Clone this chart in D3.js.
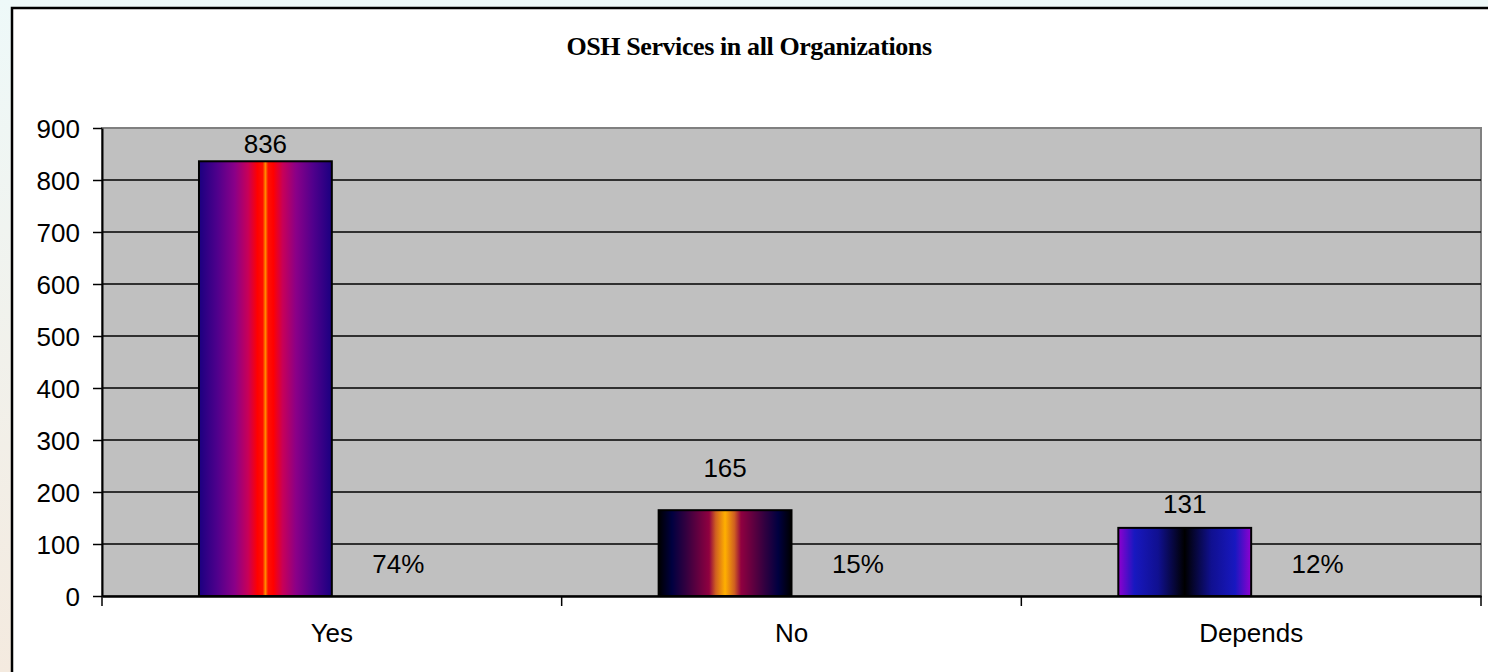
<!DOCTYPE html>
<html><head><meta charset="utf-8">
<script src="https://cdn.jsdelivr.net/npm/d3@7"></script>
<style>body{margin:0;overflow:hidden}svg{display:block}</style>
</head><body>
<script>
const categories = ["Yes", "No", "Depends"];
const counts = [836, 165, 131];
const percents = [0.74, 0.15, 0.12];
const percentLabels = ["74%", "15%", "12%"];
const yTicks = [0, 100, 200, 300, 400, 500, 600, 700, 800, 900];
const title = "OSH Services in all Organizations";
const countLabelGap = [8, 33, 15];
const gradientStops = [
  [["#1a0080",0],["#50008c",0.14],["#8a0088",0.27],["#c80058",0.37],["#ff0000",0.44],["#ff1000",0.48],["#ff8c00",0.5],["#ff1000",0.52],["#ff0000",0.56],["#c80058",0.63],["#8a0088",0.73],["#50008c",0.86],["#1a0080",1]],
  [["#000000",0],["#000040",0.1],["#300040",0.2],["#700040",0.32],["#900040",0.38],["#d06020",0.43],["#ffb000",0.5],["#d06020",0.57],["#900040",0.62],["#700040",0.68],["#300040",0.8],["#000040",0.9],["#000000",1]],
  [["#9000d0",0],["#1818c0",0.12],["#101090",0.3],["#000000",0.5],["#101090",0.7],["#1818c0",0.88],["#9000d0",1]]
];

(function(){
const W = 1488, H = 672;
const svg = d3.select("body").append("svg").attr("width", W).attr("height", H);
const defs = svg.append("defs");
const bg = defs.append("linearGradient").attr("id","bg").attr("x1",0).attr("y1",0).attr("x2",0).attr("y2",1);
bg.append("stop").attr("offset",0).attr("stop-color","#eef9f9");
bg.append("stop").attr("offset",1).attr("stop-color","#f4eadf");
svg.append("rect").attr("width",W).attr("height",H).attr("fill","url(#bg)");
svg.append("rect").attr("x",12).attr("y",8).attr("width",W+20).attr("height",H+20)
  .attr("fill","#fff").attr("stroke","#000").attr("stroke-width",2.5);

gradientStops.forEach((st,i)=>{
  const g = defs.append("linearGradient").attr("id","g"+i).attr("x1",0).attr("x2",1).attr("y1",0).attr("y2",0);
  st.forEach(s=>g.append("stop").attr("offset",s[1]).attr("stop-color",s[0]));
});

svg.append("text").attr("x",749).attr("y",55).attr("text-anchor","middle")
  .attr("font-family","Liberation Serif, Times New Roman, serif").attr("font-weight","bold")
  .attr("font-size",26).attr("letter-spacing",-0.4).text(title);

const pL = 102, pR = 1481, pT = 128, pB = 596;
const x = d3.scaleBand().domain(categories).range([pL, pR]).paddingInner(0).paddingOuter(0);
const sub = d3.scaleBand().domain(["count","pct"]).range([0, x.bandwidth()]).paddingInner(0).paddingOuter(0.73);
const y = d3.scaleLinear().domain([0, 900]).range([pB, pT]);

svg.append("rect").attr("x",pL).attr("y",pT).attr("width",pR-pL).attr("height",pB-pT)
  .attr("fill","#c0c0c0").attr("stroke","#808080").attr("stroke-width",2);

svg.append("g").selectAll("line").data(yTicks.filter(d=>d>0 && d<900)).join("line")
  .attr("x1",pL).attr("x2",pR).attr("y1",d=>y(d)).attr("y2",d=>y(d))
  .attr("stroke","#000").attr("stroke-width",1.5);

const font = "Liberation Sans, Arial, sans-serif";
const ya = svg.append("g").attr("transform",`translate(${pL},0)`)
  .call(d3.axisLeft(y).tickValues(yTicks).tickSize(9).tickPadding(13).tickSizeOuter(0));
ya.select(".domain").attr("stroke","#000").attr("stroke-width",2);
ya.selectAll(".tick line").attr("stroke","#000").attr("stroke-width",1.5);
ya.selectAll("text").attr("font-family",font).attr("font-size",26).attr("fill","#000").attr("dy","0.36em");

const xa = svg.append("g").attr("transform",`translate(0,${pB})`)
  .call(d3.axisBottom(x).tickSize(0).tickPadding(28).tickSizeOuter(0));
xa.select(".domain").attr("stroke","#000").attr("stroke-width",2.5);
xa.selectAll("text").attr("font-family",font).attr("font-size",26).attr("fill","#000");
svg.append("g").selectAll("line").data([0,1,2,3]).join("line")
  .attr("x1",i=>i<3?x(categories[i]):pR).attr("x2",i=>i<3?x(categories[i]):pR)
  .attr("y1",pB).attr("y2",pB+10).attr("stroke","#000").attr("stroke-width",1.5);

const bw = sub.bandwidth();
svg.append("g").selectAll("rect").data(counts).join("rect")
  .attr("x",(d,i)=>x(categories[i])+sub("count"))
  .attr("y",d=>y(d)).attr("width",bw).attr("height",d=>y(0)-y(d))
  .attr("fill",(d,i)=>`url(#g${i})`).attr("stroke","#000").attr("stroke-width",2);

svg.append("g").selectAll("text").data(counts).join("text")
  .attr("x",(d,i)=>x(categories[i])+sub("count")+bw/2).attr("y",(d,i)=>y(d)-countLabelGap[i])
  .attr("text-anchor","middle").attr("font-family",font).attr("font-size",26).text(d=>d);

svg.append("g").selectAll("text").data(percents).join("text")
  .attr("x",(d,i)=>x(categories[i])+sub("pct")+bw/2).attr("y",d=>y(d)-23)
  .attr("text-anchor","middle").attr("font-family",font).attr("font-size",26).text((d,i)=>percentLabels[i]);
})();
</script>
</body></html>
